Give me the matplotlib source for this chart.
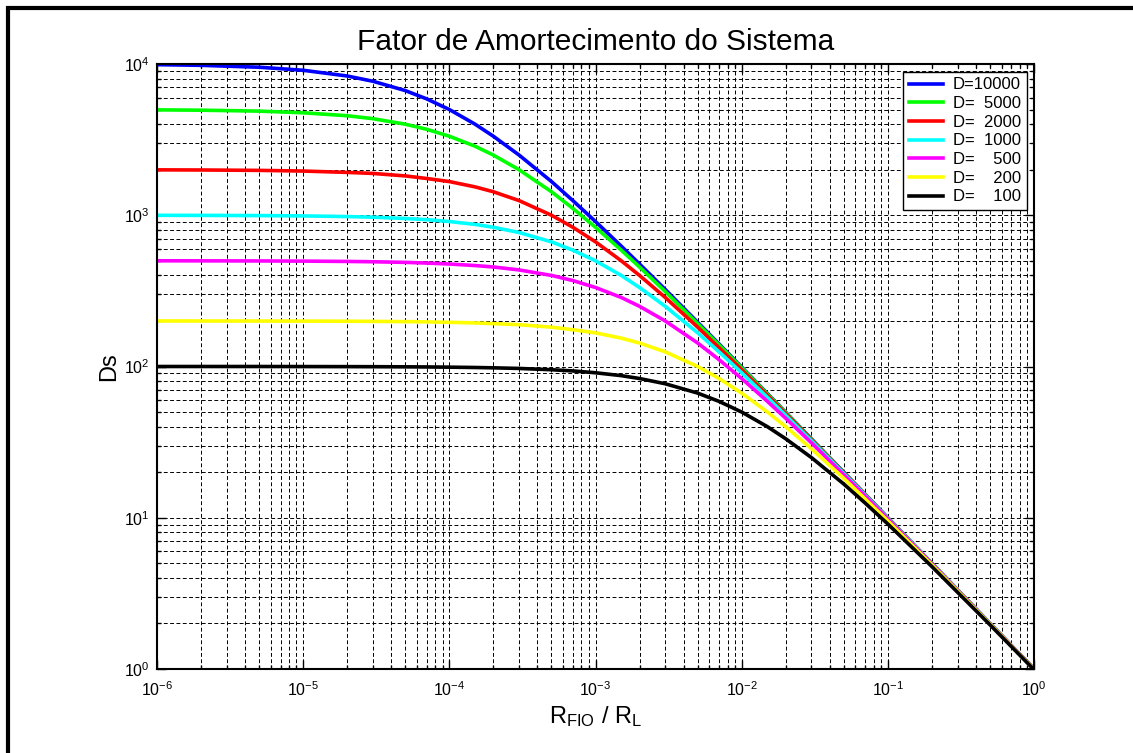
import numpy as np
import matplotlib
matplotlib.use("Agg")
import matplotlib.pyplot as plt
from matplotlib.ticker import LogLocator, NullFormatter, FixedLocator
from matplotlib.lines import Line2D

plt.rcParams['font.family'] = ['Liberation Sans', 'DejaVu Sans']
plt.rcParams['mathtext.fontset'] = 'custom'
plt.rcParams['mathtext.rm'] = 'Liberation Sans'
plt.rcParams['mathtext.it'] = 'Liberation Sans:italic'
plt.rcParams['mathtext.bf'] = 'Liberation Sans:bold'
plt.rcParams['mathtext.default'] = 'regular'

# Wire-to-load resistance ratio (x axis)
r_ratio = [1e-6, 2e-6, 5e-6, 1e-5, 2e-5, 3e-5, 5e-5, 7e-5, 1e-4, 1.5e-4,
           2e-4, 3e-4, 5e-4, 7e-4, 1e-3, 1.5e-3, 2e-3, 3e-3, 5e-3, 7e-3,
           1e-2, 1.5e-2, 2e-2, 3e-2, 5e-2, 7e-2, 1e-1, 2e-1, 5e-1, 1.0]

# System damping factor Ds for each amplifier damping factor D
ds_10000 = [9900, 9800, 9520, 9090, 8330, 7690, 6670, 5880, 5000, 4000,
            3330, 2500, 1670, 1250, 909, 625, 476, 323, 196, 141,
            99.0, 66.2, 49.8, 33.2, 20.0, 14.3, 9.99, 5.00, 2.00, 1.00]
ds_5000 = [4975, 4950, 4880, 4760, 4550, 4350, 4000, 3700, 3330, 2860,
           2500, 2000, 1430, 1110, 833, 588, 455, 313, 192, 139,
           98.0, 65.8, 49.5, 33.1, 19.9, 14.25, 9.98, 5.00, 2.00, 1.00]
ds_2000 = [1996, 1992, 1980, 1960, 1920, 1890, 1820, 1750, 1670, 1540,
           1430, 1250, 1000, 833, 667, 500, 400, 286, 182, 133,
           95.2, 64.5, 48.8, 32.8, 19.8, 14.2, 9.95, 4.99, 2.00, 1.00]
ds_1000 = [999, 998, 995, 990, 980, 971, 952, 935, 909, 870,
           833, 769, 667, 588, 500, 400, 333, 250, 167, 125,
           90.9, 62.5, 47.6, 32.3, 19.6, 14.1, 9.90, 4.98, 2.00, 1.00]
ds_500 = [500, 499.5, 498.8, 497.5, 495, 492.6, 488, 483, 476, 465,
          455, 435, 400, 370, 333, 286, 250, 200, 143, 111,
          83.3, 58.8, 45.5, 31.3, 19.2, 13.9, 9.80, 4.95, 1.99, 1.00]
ds_200 = [200, 199.9, 199.8, 199.6, 199.2, 198.8, 198, 197.2, 196, 194.2,
          192, 189, 182, 175, 167, 154, 143, 125, 100, 83.3,
          66.7, 50.0, 40.0, 28.6, 18.2, 13.3, 9.52, 4.88, 1.98, 0.995]
ds_100 = [100, 100, 100, 99.9, 99.8, 99.7, 99.5, 99.3, 99.0, 98.5,
          98.0, 97.1, 95.2, 93.5, 90.9, 87.0, 83.3, 76.9, 66.7, 58.8,
          50.0, 40.0, 33.3, 25.0, 16.7, 12.5, 9.09, 4.76, 1.96, 0.990]

labels = ['D=10000', 'D=  5000', 'D=  2000', 'D=  1000',
          'D=    500', 'D=    200', 'D=    100']
colors = ['#0000ff', '#00ff00', '#ff0000', '#00ffff', '#ff00ff', '#ffff00', '#000000']
series = [ds_10000, ds_5000, ds_2000, ds_1000, ds_500, ds_200, ds_100]

W, H = 1133, 753
fig = plt.figure(figsize=(W / 100, H / 100), dpi=100)
fig.patch.set_facecolor('white')

# Partial outer frame (top and left edges)
fig.add_artist(Line2D([6 / W, 1.0], [1 - 8 / H, 1 - 8 / H], color='black',
                      lw=3.0, transform=fig.transFigure, solid_capstyle='butt'))
fig.add_artist(Line2D([8 / W, 8 / W], [0.0, 1 - 6 / H], color='black',
                      lw=3.0, transform=fig.transFigure, solid_capstyle='butt'))

left, right, top, bottom = 157, 1034, 64, 669
ax = fig.add_axes([left / W, (H - bottom) / H, (right - left) / W, (bottom - top) / H])

for y, c, lab in zip(series, colors, labels):
    ax.plot(r_ratio, y, color=c, lw=2.6, label=lab)

ax.set_xscale('log')
ax.set_yscale('log')
ax.set_xlim(1e-6, 1)
ax.set_ylim(1, 1e4)

ax.xaxis.set_major_locator(FixedLocator([1e-6, 1e-5, 1e-4, 1e-3, 1e-2, 1e-1, 1]))
ax.yaxis.set_major_locator(FixedLocator([1, 10, 100, 1000, 10000]))
ax.xaxis.set_minor_locator(LogLocator(base=10, subs=np.arange(2, 10), numticks=100))
ax.yaxis.set_minor_locator(LogLocator(base=10, subs=np.arange(2, 10), numticks=100))
ax.xaxis.set_minor_formatter(NullFormatter())
ax.yaxis.set_minor_formatter(NullFormatter())
ax.set_xticklabels([r'$10^{-6}$', r'$10^{-5}$', r'$10^{-4}$', r'$10^{-3}$',
                    r'$10^{-2}$', r'$10^{-1}$', r'$10^{0}$'])
ax.set_yticklabels([r'$10^{0}$', r'$10^{1}$', r'$10^{2}$', r'$10^{3}$', r'$10^{4}$'])

ax.tick_params(which='both', direction='in', top=True, right=True,
               labelsize=11.5, colors='black', width=1.0)
ax.tick_params(which='major', length=6.5)
ax.tick_params(axis='y', which='major', pad=5.5)
ax.tick_params(axis='x', which='major', pad=8)
ax.tick_params(which='minor', length=3)

ax.grid(True, which='both', color='black', linestyle=(0, (4, 2.5)), lw=0.7)
for s in ax.spines.values():
    s.set_linewidth(1.5)

ax.set_title('Fator de Amortecimento do Sistema', fontsize=21.5, pad=10)
ax.set_ylabel('Ds', fontsize=17)
ax.yaxis.set_label_coords(-0.042, 0.5)
ax.set_xlabel(r'R$_{\mathrm{FIO}}$ / R$_{\mathrm{L}}$', fontsize=17, labelpad=4)

leg = ax.legend(loc='upper right', fontsize=12, fancybox=False, framealpha=1,
                edgecolor='black', borderaxespad=0.45, handlelength=2.0,
                labelspacing=0.22, borderpad=0.35, handletextpad=0.6)
leg.get_frame().set_linewidth(1.0)

fig.savefig('out.png', dpi=100, facecolor='white')
